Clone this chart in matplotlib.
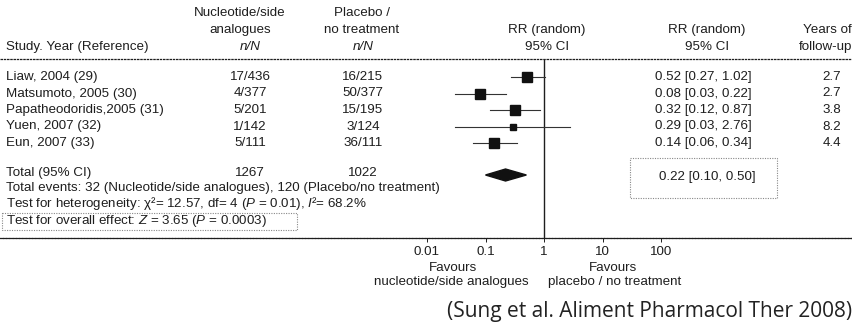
import matplotlib.pyplot as plt
import matplotlib.patches as mpatches
import numpy as np

# study data
studies = ["Liaw, 2004 (29)", "Matsumoto, 2005 (30)", "Papatheodoridis,2005 (31)",
           "Yuen, 2007 (32)", "Eun, 2007 (33)"]
treat_nN = ["17/436", "4/377", "5/201", "1/142", "5/111"]
ctrl_nN = ["16/215", "50/377", "15/195", "3/124", "36/111"]
rr = [0.52, 0.08, 0.32, 0.29, 0.14]
rr_lo = [0.27, 0.03, 0.12, 0.03, 0.06]
rr_hi = [1.02, 0.22, 0.87, 2.76, 0.34]
years = ["2.7", "2.7", "3.8", "8.2", "4.4"]

total_treat = "1267"
total_ctrl = "1022"
pooled = 0.22
pooled_lo = 0.10
pooled_hi = 0.50

tick_vals = [0.01, 0.1, 1, 10, 100]
tick_labels = ["0.01", "0.1", "1", "10", "100"]

# square sizes (px) roughly following study weight
square_px = [7.5, 7, 7, 5, 6.5]

W, H = 853, 329
INK = "#1e1e1e"
FS = 9.6
plt.rcParams['font.family'] = ['Liberation Sans', 'DejaVu Sans']
plt.rcParams['mathtext.fontset'] = 'custom'
plt.rcParams['mathtext.rm'] = 'Liberation Sans'
plt.rcParams['mathtext.it'] = 'Liberation Sans:italic'

fig = plt.figure(figsize=(W / 100, H / 100), dpi=100)
fig.patch.set_facecolor("white")

# forest axes, in pixel-like y coords; log x with 1 at x=544 and 58.5 px per decade
top_px, bot_px = 60, 238
ax = fig.add_axes([0, 1 - bot_px / H, 1, (bot_px - top_px) / H])
ax.set_xscale("log")
ax.set_xlim(10 ** (-544 / 58.5), 10 ** ((W - 544) / 58.5))
ax.set_ylim(bot_px, top_px)
ax.patch.set_alpha(0)
for s in ["top", "left", "right"]:
    ax.spines[s].set_visible(False)
ax.spines["bottom"].set_color(INK)
ax.spines["bottom"].set_linewidth(0.9)
ax.spines["bottom"].set_linestyle((0, (2, 0.6)))
ax.set_xticks(tick_vals)
ax.set_xticklabels(tick_labels)
ax.minorticks_off()
ax.tick_params(axis="x", direction="out", length=3, width=0.7, colors=INK,
               labelsize=FS, pad=3)
ax.set_yticks([])

row0, row_h = 77, 16.5
row_y = [row0 + i * row_h for i in range(len(studies))]
total_y = 175

ax.axvline(1, color=INK, lw=1.0)
for i in range(len(studies)):
    ax.plot([rr_lo[i], rr_hi[i]], [row_y[i], row_y[i]], color="#333333", lw=0.8)
    ax.plot(rr[i], row_y[i], marker="s", ms=square_px[i], color="#111111", mec="#111111")

# pooled diamond
dh = 6
diamond = mpatches.Polygon([[pooled_lo, total_y], [pooled, total_y - dh],
                            [pooled_hi, total_y], [pooled, total_y + dh]],
                           closed=True, color="#111111")
ax.add_patch(diamond)

# overlay axes for text in pixel coords
tx = fig.add_axes([0, 0, 1, 1])
tx.set_xlim(0, W)
tx.set_ylim(H, 0)
tx.axis("off")
tx.patch.set_alpha(0)

def t(x, y, s, ha="left", **kw):
    tx.text(x, y, s, ha=ha, va="center", fontsize=FS, color=INK, **kw)

# headers
t(240, 13, "Nucleotide/side", "center")
t(240, 30, "analogues", "center")
t(250, 47, "n/N", "center", style="italic")
t(362, 13, "Placebo /", "center")
t(362, 30, "no treatment", "center")
t(363, 47, "n/N", "center", style="italic")
t(6, 47, "Study. Year (Reference)")
t(547, 30, "RR (random)", "center")
t(547, 47, "95% CI", "center")
t(707, 30, "RR (random)", "center")
t(707, 47, "95% CI", "center")
t(852, 30, "Years of", "right")
t(852, 47, "follow-up", "right")
tx.plot([0, W], [59, 59], color=INK, lw=0.9, ls=(0, (2, 0.6)))

for i in range(len(studies)):
    y = row_y[i]
    t(6, y, studies[i])
    t(250, y, treat_nN[i], "center")
    t(363, y, ctrl_nN[i], "center")
    t(703, y, f"{rr[i]:.2f} [{rr_lo[i]:.2f}, {rr_hi[i]:.2f}]", "center")
    t(832, y, years[i], "center")

t(6, 173, "Total (95% CI)")
t(250, 173, total_treat, "center")
t(363, 173, total_ctrl, "center")
t(707, 177, f"{pooled:.2f} [{pooled_lo:.2f}, {pooled_hi:.2f}]", "center")
tx.add_patch(mpatches.Rectangle((630, 158), 147, 40, fill=False, ec="#888888",
                                lw=0.8, ls=(0, (1, 1.2))))

t(6, 188.5, "Total events: 32 (Nucleotide/side analogues), 120 (Placebo/no treatment)")
t(6, 203.5, "Test for heterogeneity: χ²= 12.57, df= 4 ($P$ = 0.01), $I$²= 68.2%")
t(6, 221, "Test for overall effect: $Z$ = 3.65 ($P$ = 0.0003)")
tx.add_patch(mpatches.Rectangle((2, 213), 295, 17, fill=False, ec="#888888",
                                lw=0.8, ls=(0, (1, 1.2))))

t(453, 268, "Favours", "center")
t(451, 282, "nucleotide/side analogues", "center")
t(613, 268, "Favours", "center")
t(615, 282, "placebo / no treatment", "center")

tx.text(852, 312, "(Sung et al. Aliment Pharmacol Ther 2008)", ha="right", va="center",
        fontsize=15, color="#222222", family=["Open Sans", "DejaVu Sans"])

fig.savefig("out.png", dpi=100, facecolor="white")
